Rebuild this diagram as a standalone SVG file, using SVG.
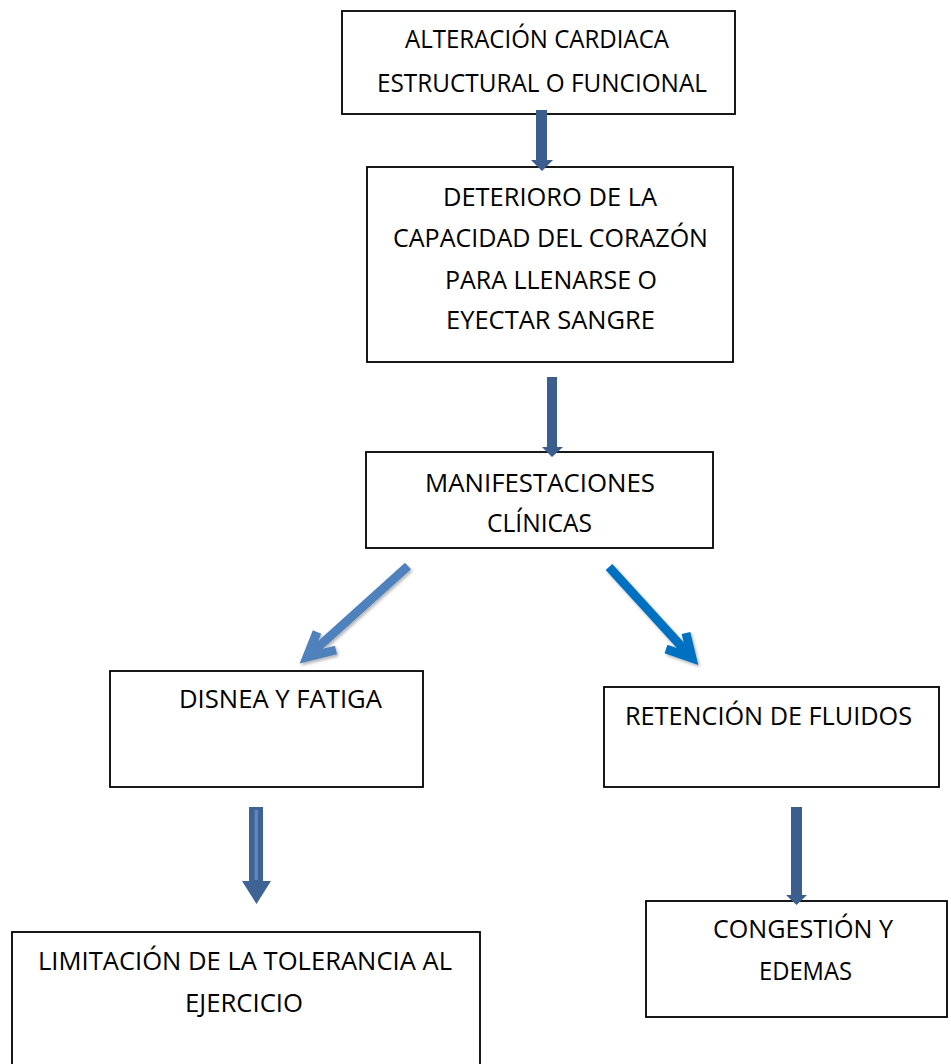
<svg xmlns="http://www.w3.org/2000/svg" width="951" height="1064" viewBox="0 0 951 1064">
<style>
.box{fill:#fff;stroke:#000;stroke-width:1.8}
.t{font-family:"Open Sans","Liberation Sans",sans-serif;font-size:25.5px;fill:#000}
.va{fill:#3B5E8F}
.diag{fill:none;stroke-width:9;stroke-linejoin:miter;stroke-linecap:butt;stroke-miterlimit:10}
</style>
<defs>
<filter id="sh" x="-20%" y="-20%" width="140%" height="140%">
<feDropShadow dx="1.5" dy="2" stdDeviation="1.5" flood-color="#000" flood-opacity="0.3"/>
</filter>
</defs>
<rect width="951" height="1064" fill="#fff"/>
<g id="n1">
<rect class="box" x="342" y="11" width="393" height="103"/>
<text class="t" x="405" y="48" textLength="264" lengthAdjust="spacingAndGlyphs">ALTERACIÓN CARDIACA</text>
<text class="t" x="377" y="92" textLength="330" lengthAdjust="spacingAndGlyphs">ESTRUCTURAL O FUNCIONAL</text>
</g>
<g id="n2">
<rect class="box" x="367" y="167" width="366" height="195"/>
<text class="t" x="443" y="206" textLength="214" lengthAdjust="spacingAndGlyphs">DETERIORO DE LA</text>
<text class="t" x="393" y="247" textLength="315" lengthAdjust="spacingAndGlyphs">CAPACIDAD DEL CORAZÓN</text>
<text class="t" x="445" y="289" textLength="212" lengthAdjust="spacingAndGlyphs">PARA LLENARSE O</text>
<text class="t" x="446" y="329" textLength="209" lengthAdjust="spacingAndGlyphs">EYECTAR SANGRE</text>
</g>
<g id="n3">
<rect class="box" x="366" y="452" width="347" height="96"/>
<text class="t" x="425" y="492" textLength="230" lengthAdjust="spacingAndGlyphs">MANIFESTACIONES</text>
<text class="t" x="487" y="532" textLength="105" lengthAdjust="spacingAndGlyphs">CLÍNICAS</text>
</g>
<g id="n4">
<rect class="box" x="110" y="671" width="313" height="116"/>
<text class="t" x="179" y="708" textLength="203" lengthAdjust="spacingAndGlyphs">DISNEA Y FATIGA</text>
</g>
<g id="n5">
<rect class="box" x="604" y="687" width="335" height="100"/>
<text class="t" x="625" y="725" textLength="287" lengthAdjust="spacingAndGlyphs">RETENCIÓN DE FLUIDOS</text>
</g>
<g id="n6">
<rect class="box" x="12" y="932" width="468" height="150"/>
<text class="t" x="38" y="970" textLength="414" lengthAdjust="spacingAndGlyphs">LIMITACIÓN DE LA TOLERANCIA AL</text>
<text class="t" x="185" y="1012" textLength="118" lengthAdjust="spacingAndGlyphs">EJERCICIO</text>
</g>
<g id="n7">
<rect class="box" x="646" y="901" width="301" height="116"/>
<text class="t" x="713" y="938" textLength="180" lengthAdjust="spacingAndGlyphs">CONGESTIÓN Y</text>
<text class="t" x="759" y="980" textLength="93" lengthAdjust="spacingAndGlyphs">EDEMAS</text>
</g>
<g id="connectors">
<polygon class="va" points="536,110 547,110 547,160 553,160 542,171 531,160 536,160"/>
<polygon class="va" points="547,377 557,377 557,447 563,447 552,457 542,447 547,447"/>
<g filter="url(#sh)">
<polyline class="diag" stroke="#4F81BD" points="408,566 307,657"/>
<polyline class="diag" stroke="#4F81BD" points="317,632 307,657 336,650"/>
<polyline class="diag" stroke="#0070C0" points="609,567 692,658"/>
<polyline class="diag" stroke="#0070C0" points="686,633 692,658 666,649"/>
</g>
<polygon fill="#3E6394" points="249,807 263,807 263,881 271,881 256.5,904 242,881 249,881"/>
<rect x="254.5" y="810" width="3.5" height="70" fill="#5A87C0"/>
<polygon class="va" points="791,807 802,807 802,895 807,895 796.5,905 786,895 791,895"/>
</g>
</svg>
